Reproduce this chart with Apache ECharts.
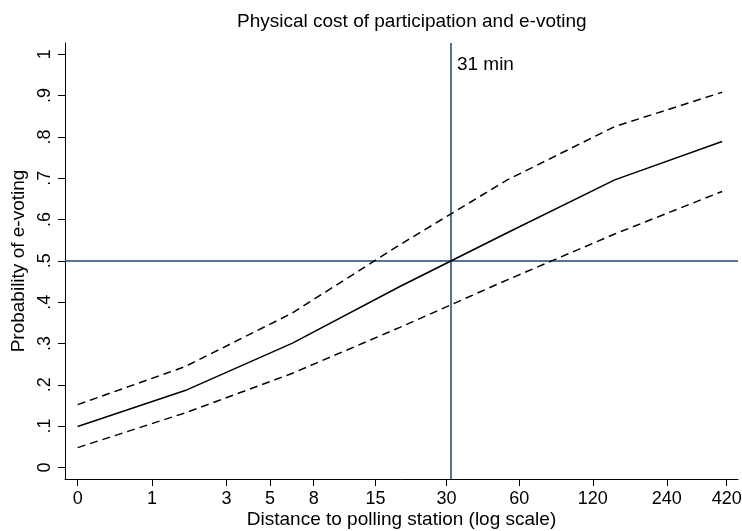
<!DOCTYPE html>
<html>
<head>
<meta charset="utf-8">
<script src="https://cdn.jsdelivr.net/npm/echarts@6/dist/echarts.min.js"></script>
<style>
  html, body { margin: 0; padding: 0; background: #fff; }
  #chart { width: 742px; height: 531px; }
</style>
</head>
<body>
<div id="chart"></div>
<script>
// x positions are ln(minutes + 1), the log scale used on the axis
const logDist = [0, 1, 2, 3, 4, 5, 6];
const probMid = [0.099, 0.186, 0.301, 0.438, 0.568, 0.696, 0.789];
const probUpper = [0.152, 0.244, 0.374, 0.539, 0.696, 0.825, 0.908];
const probLower = [0.048, 0.132, 0.228, 0.339, 0.454, 0.565, 0.668];

const xTickMinutes = [0, 1, 3, 5, 8, 15, 30, 60, 120, 240, 420];
const yTicks = [0, 0.1, 0.2, 0.3, 0.4, 0.5, 0.6, 0.7, 0.8, 0.9, 1];
const thresholdMin = 31;
const refProb = 0.5;

const font = "'Liberation Sans', Arial, Helvetica, sans-serif";
const navy = '#1a476f';

const toLog = m => Math.log(m + 1);
const pairs = ys => logDist.map((x, i) => [x, ys[i]]);

const chart = echarts.init(document.getElementById('chart'));
chart.setOption({
  backgroundColor: '#fff',
  animation: false,
  textStyle: { fontFamily: font, color: '#000' },
  title: {
    text: 'Physical cost of participation and e-voting',
    left: 232,
    top: 7,
    textStyle: { fontFamily: font, fontSize: 19, fontWeight: 'normal', color: '#000' }
  },
  grid: { left: 65, right: 4, top: 43, bottom: 52, containLabel: false, outerBoundsMode: 'none' },
  xAxis: {
    type: 'value',
    min: -0.118,
    max: 6.148,
    name: 'Distance to polling station (log scale)',
    nameLocation: 'middle',
    nameGap: 31,
    nameMoveOverlap: false,
    nameTextStyle: { fontFamily: font, fontSize: 19, color: '#000' },
    axisLine: { show: true, onZero: false, lineStyle: { color: '#000', width: 1 } },
    axisTick: { show: true, length: 7, customValues: xTickMinutes.map(toLog), lineStyle: { color: '#000' } },
    axisLabel: {
      customValues: xTickMinutes.map(toLog),
      margin: 11,
      fontSize: 18,
      color: '#000',
      formatter: v => String(Math.round(Math.exp(v) - 1))
    },
    splitLine: { show: false }
  },
  yAxis: {
    type: 'value',
    min: -0.028,
    max: 1.0273,
    name: 'Probability of e-voting',
    nameLocation: 'middle',
    nameGap: 36,
    nameTextStyle: { fontFamily: font, fontSize: 19, color: '#000' },
    axisLine: { show: true, onZero: false, lineStyle: { color: '#000', width: 1 } },
    axisTick: { show: true, length: 7, customValues: yTicks, lineStyle: { color: '#000' } },
    axisLabel: {
      customValues: yTicks,
      rotate: 90,
      margin: 11,
      fontSize: 18,
      color: '#000',
      formatter: v => (v === 0 || v === 1) ? String(v) : String(Math.round(v * 10) / 10).replace(/^0\./, '.')
    },
    splitLine: { show: false }
  },
  series: [
    {
      name: 'upper',
      type: 'line',
      data: pairs(probUpper),
      symbol: 'none',
      lineStyle: { color: '#000', width: 1.5, type: [8, 5] },
      z: 3
    },
    {
      name: 'lower',
      type: 'line',
      data: pairs(probLower),
      symbol: 'none',
      lineStyle: { color: '#000', width: 1.5, type: [8, 5] },
      z: 3
    },
    {
      name: 'mid',
      type: 'line',
      data: pairs(probMid),
      symbol: 'none',
      lineStyle: { color: '#000', width: 1.5 },
      z: 3,
      markLine: {
        silent: true,
        symbol: 'none',
        label: { show: false },
        lineStyle: { color: navy, width: 1.5, type: 'solid' },
        data: [{ xAxis: toLog(thresholdMin) }, { yAxis: refProb }],
        z: 2
      },
      markPoint: {
        silent: true,
        symbol: 'circle',
        symbolSize: 0,
        label: {
          show: true,
          position: 'right',
          distance: 7,
          fontFamily: font,
          fontSize: 19,
          color: '#000',
          formatter: thresholdMin + ' min'
        },
        data: [{ coord: [toLog(thresholdMin), 0.974] }]
      }
    }
  ]
});
</script>
</body>
</html>
